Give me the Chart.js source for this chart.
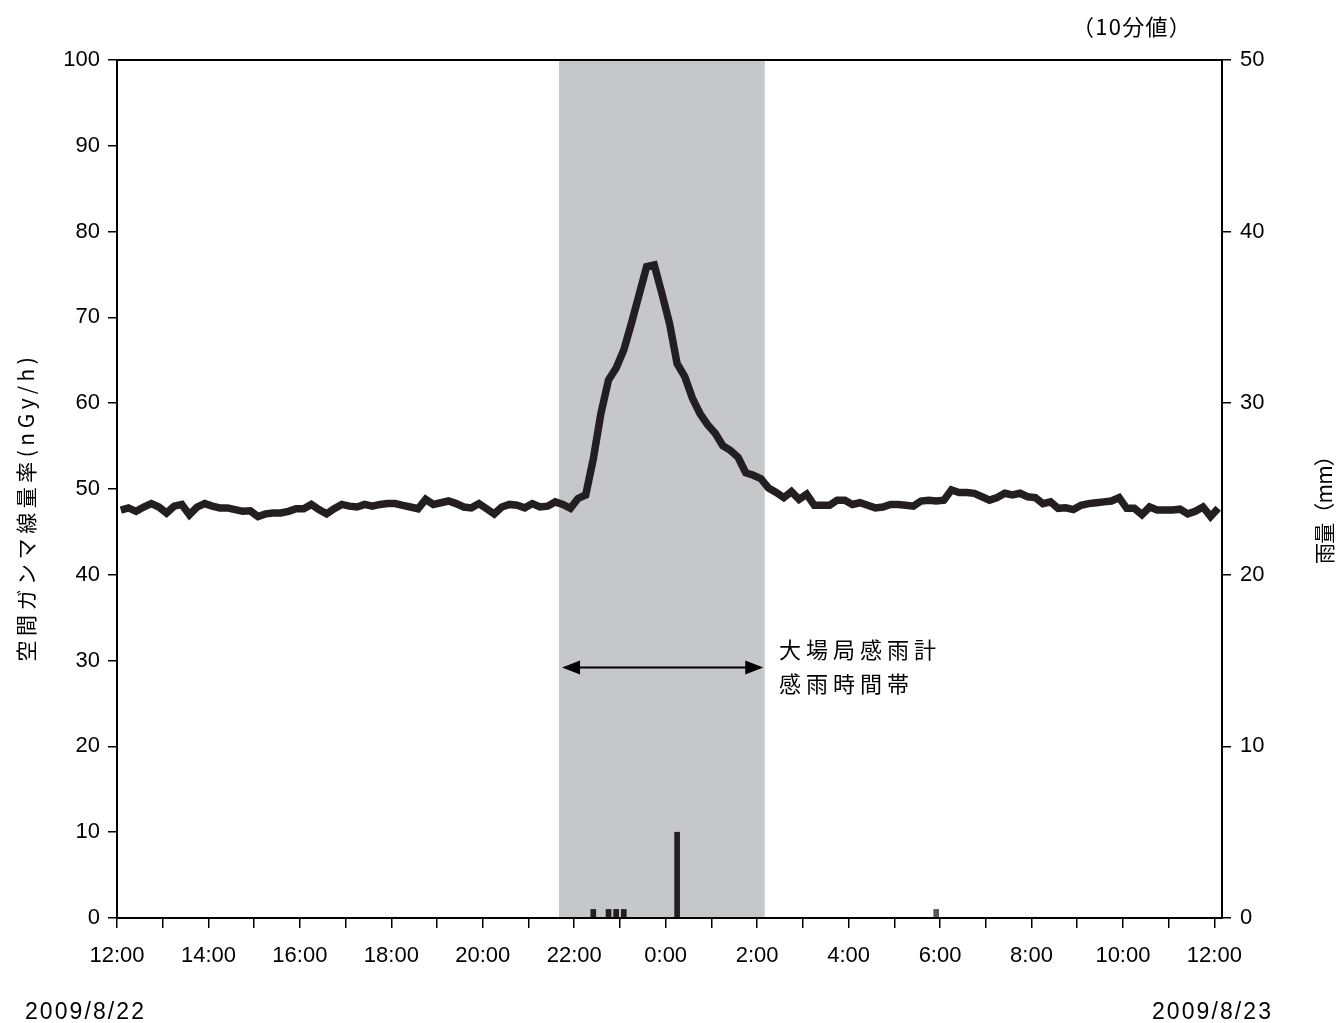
<!DOCTYPE html>
<html><head><meta charset="utf-8">
<script src="https://cdn.jsdelivr.net/npm/chart.js@4.4.1/dist/chart.umd.min.js"></script>
<style>html,body{margin:0;padding:0;background:#fff;}#wrap{width:1338px;height:1023px;}</style>
</head><body><div id="wrap"><canvas id="c" width="1338" height="1023"></canvas></div>
<script>
// x-axis labels (every 2 hours, 10-minute slots: 12 slots per label)
const timeLabels = ['12:00','14:00','16:00','18:00','20:00','22:00','0:00','2:00','4:00','6:00','8:00','10:00','12:00'];
// ambient gamma dose rate (nGy/h), 10-minute values from 2009/8/22 12:00
const gammaRate = [
 47.55,47.8,47.4,47.9,48.3,47.9,47.2,48.0,48.2,47.0,
 47.9,48.3,48.0,47.8,47.8,47.6,47.4,47.45,46.8,47.1,
 47.2,47.2,47.4,47.7,47.7,48.2,47.6,47.1,47.7,48.2,
 48.0,47.9,48.2,48.0,48.2,48.3,48.3,48.1,47.9,47.7,
 48.8,48.2,48.4,48.6,48.3,47.9,47.8,48.3,47.7,47.1,
 47.9,48.2,48.1,47.8,48.3,47.9,48.0,48.5,48.2,47.75,
 48.9,49.3,53.5,58.8,62.7,64.1,66.2,69.3,72.6,75.9,
 76.1,72.8,69.3,64.6,63.1,60.6,58.8,57.5,56.5,55.05,
 54.5,53.7,51.9,51.6,51.2,50.1,49.6,49.0,49.7,48.8,
 49.4,48.1,48.1,48.1,48.7,48.7,48.2,48.4,48.1,47.8,
 47.9,48.2,48.2,48.1,48.0,48.6,48.7,48.6,48.7,49.9,
 49.6,49.6,49.5,49.1,48.7,49.0,49.5,49.3,49.5,49.1,
 49.0,48.3,48.5,47.75,47.8,47.6,48.1,48.3,48.4,48.5,
 48.6,49.0,47.75,47.75,47.0,47.9,47.55,47.55,47.55,47.65,
 47.1,47.4,47.9,46.8,47.75
];
// rainfall (mm / 10 min) : slot index and amount
const rainSlots   = [62, 64, 65, 66, 73, 107];
const rainAmounts = [0.5, 0.5, 0.5, 0.5, 5, 0.5];
// rain-sensor period (slot indices) and annotation arrow
const rainPeriod = [58, 85];
const arrowSpan = [58.4, 84.8];
const arrowLevel = 29.2;
const leftTicks = [0,10,20,30,40,50,60,70,80,90,100];
const rightTicks = [0,10,20,30,40,50];

const NUM_FONT = "'Liberation Sans', Arial, sans-serif";
const JP_FONT = "'Noto Sans CJK JP', 'Noto Sans', sans-serif";

function fitText(ctx, text, x, y, width) {
  const w0 = ctx.measureText(text).width;
  const n = [...text].length;
  ctx.letterSpacing = ((width - w0) / n) + 'px';
  ctx.fillText(text, x, y);
  ctx.letterSpacing = '0px';
}

const extras = {
  id: 'extras',
  beforeDatasetsDraw(chart) {
    const {ctx, chartArea: a, scales} = chart;
    const x0 = scales.x.getPixelForValue(rainPeriod[0]);
    const x1 = scales.x.getPixelForValue(rainPeriod[1]);
    ctx.save();
    ctx.fillStyle = '#c6c7c9';
    ctx.fillRect(x0, a.top, x1 - x0, a.bottom - a.top);
    ctx.restore();
  },
  afterDraw(chart) {
    const {ctx, chartArea: a, scales} = chart;
    ctx.save();
    ctx.strokeStyle = '#000';
    ctx.lineWidth = 2;
    ctx.strokeRect(a.left, a.top, a.right - a.left, a.bottom - a.top);

    // arrow
    const ax0 = scales.x.getPixelForValue(arrowSpan[0]);
    const ax1 = scales.x.getPixelForValue(arrowSpan[1]);
    const ay = scales.y.getPixelForValue(arrowLevel);
    ctx.fillStyle = '#000';
    ctx.lineWidth = 2;
    ctx.beginPath(); ctx.moveTo(ax0 + 10, ay); ctx.lineTo(ax1 - 10, ay); ctx.stroke();
    ctx.beginPath(); ctx.moveTo(ax0, ay); ctx.lineTo(ax0 + 18, ay - 7); ctx.lineTo(ax0 + 18, ay + 7); ctx.closePath(); ctx.fill();
    ctx.beginPath(); ctx.moveTo(ax1, ay); ctx.lineTo(ax1 - 18, ay - 7); ctx.lineTo(ax1 - 18, ay + 7); ctx.closePath(); ctx.fill();

    // annotation text
    ctx.font = "22px " + JP_FONT;
    ctx.textBaseline = 'middle';
    ctx.textAlign = 'left';
    fitText(ctx, '大場局感雨計', 779, 650, 162);
    fitText(ctx, '感雨時間帯', 779, 684, 135);

    // top-right note
    ctx.font = "22px " + JP_FONT;
    ctx.textAlign = 'left';
    fitText(ctx, '（10分値）', 1072, 27, 120);

    // dates
    ctx.font = "23px " + NUM_FONT;
    ctx.textAlign = 'left';
    fitText(ctx, '2009/8/22', 25, 1013, 121);
    fitText(ctx, '2009/8/23', 1152, 1013, 121);

    // axis titles
    ctx.font = "21px " + JP_FONT;
    ctx.textAlign = 'center';
    ctx.save();
    ctx.translate(26, 507); ctx.rotate(-Math.PI / 2);
    fitText(ctx, '空間ガンマ線量率(nGy/h)', 0, 0, 309);
    ctx.restore();
    ctx.save();
    ctx.translate(1324, 505); ctx.rotate(-Math.PI / 2);
    fitText(ctx, '雨量（mm）', 0, 0, 118);
    ctx.restore();
    ctx.restore();
  }
};

const tickFont = {family: NUM_FONT, size: 22};

new Chart(document.getElementById('c'), {
  type: 'line',
  data: {
    datasets: [
      {
        type: 'line',
        data: gammaRate.map((v, i) => ({x: i + 0.5, y: v})),
        borderColor: '#231f20',
        borderWidth: 7.5,
        pointRadius: 0,
        tension: 0,
        yAxisID: 'y'
      },
      {
        type: 'bar',
        data: rainSlots.map((s, k) => ({x: s + 0.5, y: rainAmounts[k]})),
        backgroundColor: rainSlots.map(s => s > 100 ? '#58595b' : '#231f20'),
        barThickness: 5,
        yAxisID: 'y2'
      }
    ]
  },
  options: {
    responsive: false,
    animation: false,
    layout: {padding: {top: 60, left: 0, right: 0, bottom: 0}},
    plugins: {legend: {display: false}, tooltip: {enabled: false}},
    scales: {
      x: {
        type: 'linear', min: 0, max: 145, offset: false,
        border: {display: true, color: '#000', width: 2},
        grid: {offset: false, drawOnChartArea: false, drawTicks: true, tickLength: 10, color: '#000', lineWidth: 1.5},
        afterBuildTicks: s => { s.ticks = []; for (let v = 0; v <= 144; v += 6) s.ticks.push({value: v}); },
        ticks: {autoSkip: false, maxRotation: 0, minRotation: 0, padding: 15, color: '#000', font: tickFont,
          callback: v => (v % 12 === 0 ? timeLabels[v / 12] : '')},
        afterFit: s => { s.height = 105; }
      },
      y: {
        position: 'left', min: 0, max: 100,
        border: {display: true, color: '#000', width: 2},
        grid: {drawOnChartArea: false, drawTicks: true, tickLength: 9, color: '#000', lineWidth: 1.5},
        afterBuildTicks: s => { s.ticks = leftTicks.map(v => ({value: v})); },
        ticks: {padding: 8, color: '#000', font: tickFont},
        afterFit: s => { s.width = 117; }
      },
      y2: {
        position: 'right', min: 0, max: 50,
        border: {display: true, color: '#000', width: 2},
        grid: {drawOnChartArea: false, drawTicks: true, tickLength: 9, color: '#000', lineWidth: 1.5},
        afterBuildTicks: s => { s.ticks = rightTicks.map(v => ({value: v})); },
        ticks: {padding: 9, color: '#000', font: tickFont},
        afterFit: s => { s.width = 116; }
      }
    }
  },
  plugins: [extras]
});
</script>
</body></html>
